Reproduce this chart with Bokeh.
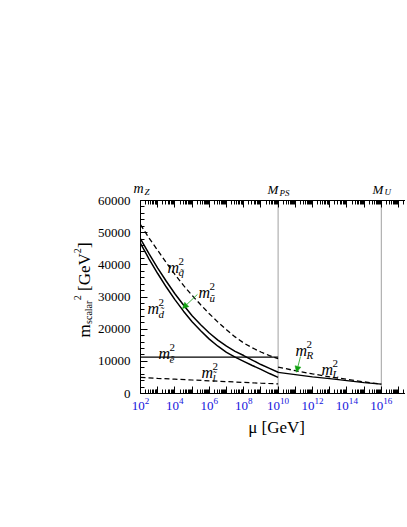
import math
from bokeh.plotting import figure
from bokeh.models import (Range1d, LogAxis, FixedTicker, NumeralTickFormatter,
                          Label, Arrow, NormalHead)
from bokeh.embed import file_html
from bokeh.resources import INLINE

# ---------------- data ----------------
# scale mu [GeV], below the Pati-Salam scale
mu_low = [1e2, 3.162e2, 1e3, 3.162e3, 1e4, 3.162e4, 1e5, 3.162e5, 1e6,
          3.162e6, 1e7, 3.162e7, 1e8, 3.162e8, 1e9, 3.162e9, 1e10]
m2_squark_q = [52500, 48300, 44500, 40700, 37000, 33600, 30500, 27600, 24800,
               22200, 19800, 17600, 15700, 14200, 12900, 11800, 10800]
m2_squark_u = [48100, 43400, 39000, 34900, 31000, 27500, 24200, 21400, 18800,
               16600, 14700, 13100, 11800, 10400, 9000, 7800, 6600]
m2_squark_d = [46700, 41800, 37300, 33100, 29200, 25600, 22300, 19500, 16900,
               14700, 12800, 11300, 10000, 8700, 7500, 6200, 5000]
mu_e = [1e2, 1e10]
m2_slepton_e = [11300, 11300]
mu_l = [1e2, 1e3, 1e4, 1e5, 1e6, 1e7, 1e8, 1e9, 1e10]
m2_slepton_l = [5000, 4700, 4450, 4200, 3950, 3700, 3450, 3200, 3000]
# between the Pati-Salam scale and the unification scale
mu_high = [1e10, 1e11, 1e12, 1e13, 1e14, 1e15, 1e16]
m2_L = [8200, 7100, 6100, 5200, 4400, 3600, 2900]
m2_R = [6600, 5900, 5200, 4600, 4000, 3400, 2900]

M_Z = 1e2
M_PS = 1e10
M_U = 1e16

# axis extents of the drawn box
X_LO, X_HI = 1e2, 10 ** 17.407
Y_LO, Y_HI = 0, 60000

x_major = [10.0 ** n for n in range(2, 18)]
x_labelled = [10.0 ** n for n in range(2, 18, 2)]
x_minor = [k * 10.0 ** n for n in range(2, 18) for k in range(2, 10)]
y_major = [0, 10000, 20000, 30000, 40000, 50000, 60000]
y_minor = list(range(0, 60001, 2000))

FONT = "Liberation Serif"
GREEN = "#10a010"

# the frame is larger than the axis box so that outside texts are not clipped
p = figure(width=405, height=470, x_axis_type="log",
           x_range=Range1d(10 ** -2.651, X_HI), y_range=Range1d(-14612, 69330),
           output_backend="svg", toolbar_location=None,
           min_border_left=60, min_border_right=0, min_border_top=170,
           min_border_bottom=30)
p.outline_line_color = None
p.xgrid.visible = False
p.ygrid.visible = False
p.background_fill_color = "white"
p.border_fill_color = "white"


def style_x(ax, loc, labels=True):
    ax.fixed_location = loc
    ax.bounds = (X_LO, X_HI)
    ax.ticker = FixedTicker(ticks=x_major, minor_ticks=x_minor)
    ax.major_tick_in = 7
    ax.major_tick_out = 0
    ax.minor_tick_in = 4
    ax.minor_tick_out = 0
    ax.axis_line_color = "black"
    ax.major_tick_line_color = "black"
    ax.minor_tick_line_color = "black"
    ax.major_label_text_font = FONT
    ax.major_label_text_font_size = "13px"
    ax.major_label_text_color = "#1414dc"
    ax.major_label_standoff = 4
    if labels:
        ax.major_label_overrides = {t: "" for t in x_major if t not in x_labelled}
    else:
        ax.major_label_overrides = {t: "" for t in x_major}


style_x(p.xaxis[0], Y_LO)
top = LogAxis()
style_x(top, Y_HI, labels=False)
p.add_layout(top, "above")

ya = p.yaxis[0]
ya.fixed_location = X_LO
ya.bounds = (Y_LO, Y_HI)
ya.ticker = FixedTicker(ticks=y_major, minor_ticks=y_minor)
ya.formatter = NumeralTickFormatter(format="0")
ya.major_tick_in = 7
ya.major_tick_out = 0
ya.minor_tick_in = 4
ya.minor_tick_out = 0
ya.axis_line_color = "black"
ya.major_label_text_font = FONT
ya.major_label_text_font_size = "13px"
ya.major_label_text_color = "black"
ya.major_label_standoff = 10

# scale lines at M_PS and M_U
p.segment(x0=[M_PS, M_U], y0=[Y_LO, Y_LO], x1=[M_PS, M_U], y1=[Y_HI, Y_HI],
          line_color="#a0a0a0", line_width=1)

# curves
p.line(mu_low, m2_squark_q, line_color="black", line_width=1.3, line_dash="5 3")
p.line(mu_low, m2_squark_u, line_color="black", line_width=1.5)
p.line(mu_low, m2_squark_d, line_color="black", line_width=1.5)
p.line(mu_e, m2_slepton_e, line_color="black", line_width=1.2)
p.line(mu_l, m2_slepton_l, line_color="black", line_width=1.2, line_dash="5 3")
p.line(mu_high, m2_L, line_color="black", line_width=1.3, line_dash="5 3")
p.line(mu_high, m2_R, line_color="black", line_width=1.3)


def lab(L, v, text, size, italic=False, dx=0, dy=0, angle=0.0, align="left"):
    p.add_layout(Label(x=10 ** L, y=v, x_offset=dx, y_offset=dy, text=text,
                       text_font=FONT, text_font_size=f"{size}px",
                       text_color="black",
                       text_font_style="italic" if italic else "normal",
                       angle=angle, angle_units="rad",
                       text_baseline="alphabetic", text_align=align))


def sym(L, v, base, sub, sup="2", size=16, small=11, dx=11, up=6, down=5):
    lab(L, v, base, size, italic=True)
    if sup:
        lab(L, v, sup, small, dx=dx, dy=up)
    if sub:
        lab(L, v, sub, small, italic=True, dx=dx, dy=-down)


# curve labels (position: log10 mu, value)
sym(3.57, 39200, "m", "q\u0303")
sym(5.37, 31400, "m", "\u0169")
sym(2.41, 26400, "m", "d\u0303")
sym(3.05, 12400, "m", "\u1ebd")
sym(5.55, 6500, "m", "l\u0303")
sym(11.01, 13400, "m", "R")
sym(12.52, 7500, "m", "L")

# scale names above the box
sym(1.593, 63730, "m", "Z", sup=None, size=14, small=9, dx=11, down=3)
sym(9.384, 63420, "M", "PS", sup=None, size=13, small=9, dx=12, down=3)
sym(15.49, 63420, "M", "U", sup=None, size=13, small=9, dx=12, down=2)

# arrows
for (x0, y0, x1, y1) in [(5.31, 30800, 4.44, 26400), (11.30, 11500, 11.07, 6600)]:
    p.add_layout(Arrow(x_start=10 ** x0, y_start=y0, x_end=10 ** x1, y_end=y1,
                       line_color=GREEN, line_width=0.8,
                       end=NormalHead(size=6, fill_color=GREEN,
                                      line_color=GREEN, line_width=0.5)))

# axis titles
lab(9.91, -10570, "\u03bc [GeV]", 17, align="center")

pieces = [("m", 0, 0, 17), ("scalar", 4, 13.6, 10), ("2", -7, 37.2, 10),
          ("[GeV", 0, 46.5, 17), ("2", -7, 84.3, 10), ("]", 0, 89.5, 17)]
for txt, dx, dy, sz in pieces:
    lab(-1.256, 17400, txt, sz, dx=dx, dy=dy, angle=math.pi / 2)

open("out.html", "w").write(file_html(p, INLINE))
